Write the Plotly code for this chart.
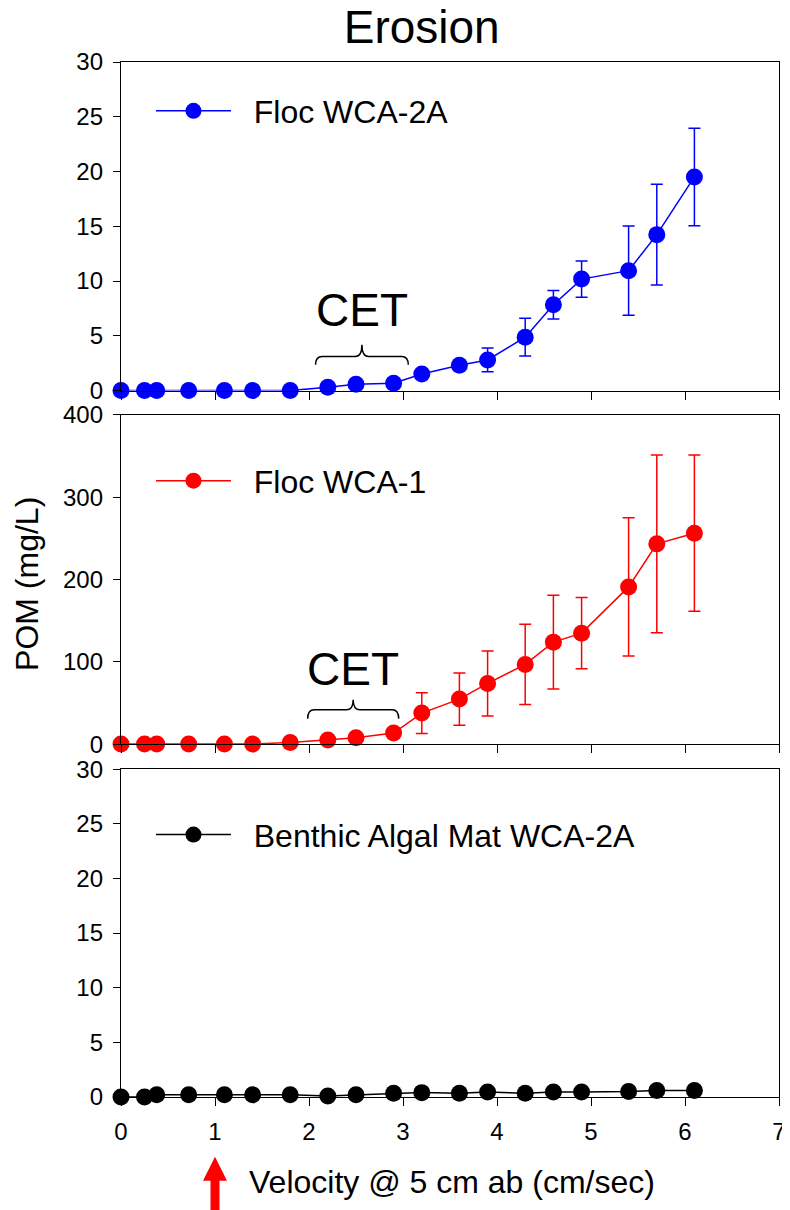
import plotly.graph_objects as go

# ---------------- data ----------------
velocity = [0, 0.25, 0.38, 0.72, 1.1, 1.4, 1.8, 2.2, 2.5, 2.9, 3.2, 3.6, 3.9, 4.3, 4.6, 4.9, 5.4, 5.7, 6.1]

floc_wca2a = [0, 0, 0, 0, 0, 0, 0, 0.30, 0.58, 0.67, 1.52, 2.32, 2.8, 4.88, 7.84, 10.18, 10.95, 14.24, 19.51]
floc_wca2a_err = [0, 0, 0, 0, 0, 0, 0, 0, 0, 0, 0, 0, 1.08, 1.73, 1.3, 1.65, 4.07, 4.6, 4.45]

floc_wca1 = [0, 0, 0, 0, 0, 0, 2, 4.9, 7.7, 13.4, 37.7, 54.7, 73.7, 96.8, 123.9, 134.8, 191, 243.3, 256.3]
floc_wca1_err = [0, 0, 0, 0, 0, 0, 0, 0, 0, 0, 24.7, 31.8, 39.5, 48.7, 56.9, 43.3, 84, 107.9, 95]

algal_mat = [0, 0, 0.2, 0.2, 0.2, 0.2, 0.2, 0.1, 0.2, 0.35, 0.4, 0.35, 0.45, 0.35, 0.45, 0.45, 0.5, 0.6, 0.6]

x_ticks = [0, 1, 2, 3, 4, 5, 6, 7]
y_ticks_small = [0, 5, 10, 15, 20, 25, 30]
y_ticks_large = [0, 100, 200, 300, 400]

# CET brace extents (x0, x1, y_end, y_bar, y_peak) and label positions
cet_top = dict(x0=2.07, x1=3.056, ye=2.35, ym=3.11, yp=4.18, tx=2.567, ty=7.4)
cet_mid = dict(x0=1.986, x1=2.954, ye=30.7, ym=41.7, yp=53.8, tx=2.47, ty=91.5)

# ---------------- layout constants ----------------
OFF = 8  # page body margin in the browser
W, H = 790 - OFF, 1210 - OFF
ML, MT = 121 - OFF, 62 - OFF
MR = W - (779.5 - OFF)
MB = H - (1097.3 - OFF)
PW = W - ML - MR
PH = H - MT - MB
FONT = "Liberation Sans, Arial, Helvetica, sans-serif"
NB = "\u00a0"


def py(page_y):
    """page pixel y -> paper y"""
    return (H - MB - (page_y - OFF)) / PH


def px(page_x):
    return ((page_x - OFF) - ML) / PW


dom_top = [py(390.7), 1.0]
dom_mid = [py(744.3), py(415)]
dom_bot = [0.0, py(769.3)]

fig = go.Figure()

series = [
    ("Floc WCA-2A", floc_wca2a, floc_wca2a_err, "#0000FF", "x", "y", "legend"),
    ("Floc WCA-1", floc_wca1, floc_wca1_err, "#FF0000", "x2", "y2", "legend2"),
    ("Benthic Algal Mat WCA-2A", algal_mat, None, "#000000", "x3", "y3", "legend3"),
]
for name, yv, err, col, xa, ya, lg in series:
    fig.add_trace(go.Scatter(
        x=velocity, y=yv, name=NB + NB + name, mode="lines+markers",
        line=dict(color=col, width=1.5),
        marker=dict(color=col, size=17),
        error_y=(dict(type="data", array=err, color=col, thickness=1.5, width=6, visible=True)
                 if err is not None else None),
        xaxis=xa, yaxis=ya, legend=lg, cliponaxis=False,
    ))

axis_common = dict(
    showline=True, linecolor="black", linewidth=1.3, mirror=True,
    ticks="outside", tickcolor="black", tickwidth=1.3,
    showgrid=False, zeroline=False, automargin=False,
    tickfont=dict(family=FONT, size=24, color="black"),
)

for i, (dom, rng, tv) in enumerate([
    (dom_top, [0, 30], y_ticks_small),
    (dom_mid, [0, 400], y_ticks_large),
    (dom_bot, [0, 30], y_ticks_small),
]):
    sfx = "" if i == 0 else str(i + 1)
    fig.update_layout(**{
        "xaxis" + sfx: dict(axis_common, domain=[0, 1], range=[0, 7], tickvals=x_ticks,
                            anchor="y" + sfx, ticklen=8,
                            showticklabels=(i == 2), ticklabelstandoff=5),
        "yaxis" + sfx: dict(axis_common, domain=dom, range=rng, tickvals=tv,
                            anchor="x" + sfx, ticklen=7, ticklabelstandoff=5),
    })

leg_common = dict(
    xanchor="left", yanchor="middle", x=px(151),
    bgcolor="rgba(0,0,0,0)", borderwidth=0, itemwidth=75,
    font=dict(family=FONT, size=32, color="black"),
)
fig.update_layout(
    legend=dict(leg_common, y=py(111)),
    legend2=dict(leg_common, y=py(481)),
    legend3=dict(leg_common, y=py(835)),
    showlegend=True,
)

# CET braces and labels
shapes = []
annotations = []
for c, xa, ya in [(cet_top, "x", "y"), (cet_mid, "x2", "y2")]:
    x0, x1, ye, ym, yp = c["x0"], c["x1"], c["ye"], c["ym"], c["yp"]
    xc = (x0 + x1) / 2
    d = 0.07
    path = (f"M{x0},{ye} Q{x0},{ym} {x0 + d},{ym} L{xc - d},{ym} "
            f"Q{xc},{ym} {xc},{yp} Q{xc},{ym} {xc + d},{ym} "
            f"L{x1 - d},{ym} Q{x1},{ym} {x1},{ye}")
    shapes.append(dict(type="path", path=path, xref=xa, yref=ya,
                       line=dict(color="black", width=1.5)))
    annotations.append(dict(text="CET", x=c["tx"], y=c["ty"], xref=xa, yref=ya,
                            showarrow=False, xanchor="center", yanchor="middle",
                            font=dict(family=FONT, size=46, color="black")))

# red arrow under x = 1
ax_paper = (1 - 0) / 7
hw = 12 / PW
sw = 4.5 / PW
tip, base, bottom = py(1157), py(1181), py(1215)
arrow = (f"M{ax_paper},{tip} L{ax_paper + hw},{base} L{ax_paper + sw},{base} "
         f"L{ax_paper + sw},{bottom} L{ax_paper - sw},{bottom} L{ax_paper - sw},{base} "
         f"L{ax_paper - hw},{base} Z")
shapes.append(dict(type="path", path=arrow, xref="paper", yref="paper",
                   fillcolor="#FF0000", line=dict(color="#FF0000", width=0)))

annotations += [
    dict(text="Velocity @ 5 cm ab (cm/sec)", x=px(452.5), y=py(1182), xref="paper", yref="paper",
         showarrow=False, xanchor="center", yanchor="middle",
         font=dict(family=FONT, size=32, color="black")),
    dict(text="POM (mg/L)", x=px(27), y=py(584), xref="paper", yref="paper",
         showarrow=False, xanchor="center", yanchor="middle", textangle=-90,
         font=dict(family=FONT, size=32, color="black")),
]

fig.update_layout(
    width=W, height=H,
    margin=dict(l=ML, r=MR, t=MT, b=MB),
    paper_bgcolor="white", plot_bgcolor="white",
    title=dict(text="Erosion", x=(421.7 - OFF) / W, xanchor="center", xref="container",
               y=1 - (27 - OFF) / H, yanchor="middle", yref="container",
               font=dict(family=FONT, size=46, color="black")),
    shapes=shapes, annotations=annotations,
)

fig.write_html("out.html")
